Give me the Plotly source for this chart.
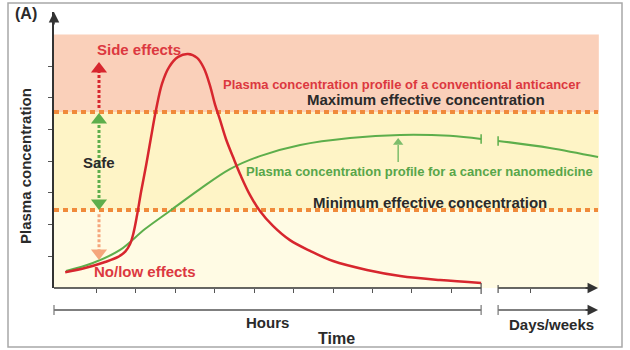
import plotly.graph_objects as go

# ---------------- data ----------------
# time in "hour" tick units, concentration in y-tick units
red_t = [0.22, 0.72, 1.23, 1.56, 1.74, 1.86, 1.95, 2.04, 2.14, 2.27, 2.39, 2.52, 2.67, 2.85,
         3.08, 3.33, 3.56, 3.73, 3.89, 4.01, 4.14, 4.29, 4.47, 4.67, 4.90, 5.15, 5.48, 5.91,
         6.42, 7.00, 7.86, 8.70, 9.71, 10.75]
red_c = [0.50, 0.63, 0.82, 0.98, 1.15, 1.38, 1.74, 2.30, 3.03, 3.88, 4.73, 5.62, 6.44, 6.97,
         7.29, 7.38, 7.26, 6.94, 6.37, 5.80, 5.30, 4.70, 4.13, 3.53, 2.93, 2.43, 1.96, 1.51,
         1.17, 0.85, 0.57, 0.38, 0.25, 0.16]
green_t_hours = [0.24, 0.92, 1.61, 2.24, 2.87, 3.63, 4.39, 5.15, 6.17, 7.43, 8.70, 9.96, 10.75]
green_c_hours = [0.54, 0.79, 1.20, 1.86, 2.43, 3.12, 3.75, 4.16, 4.51, 4.73, 4.83, 4.80, 4.70]
green_t_days = [11.18, 12.49, 13.71]
green_c_days = [4.64, 4.42, 4.13]

min_effective = 2.46
max_effective = 5.55
band_top = 8.0
x_ticks = [1, 2, 3, 4, 5, 6, 7, 8, 9, 10, 12]
y_ticks = [1, 2, 3, 4, 5, 6, 7]
break_start, break_end = 10.75, 11.18
x_end = 13.71
arrow_x = 1.076          # position of the dotted arrows
nano_arrow_x = 8.65

# ---------------- layout geometry ----------------
W, H = 630, 350
ML, MR, MT, MB = 54, 26, 12, 62
X0, X1 = -0.0633, 13.861
Y1 = 8.7066
PW, PH = W - ML - MR, H - MT - MB

def xp(x):  # data x -> paper
    return (x - X0) / (X1 - X0)

def yp_px(py):  # pixel y -> paper
    return (H - MB - py) / PH

def xp_px(px):
    return (px - ML) / PW

RED = '#D7262E'
RED_TXT = '#DC3840'
GREEN = '#5DAE4B'
GREEN_TXT = '#58A64A'
ORANGE = '#F08A3B'
PEACH = '#F5A67C'
PINK = '#FAD0BA'
YEL_HI = '#FEF4C6'
YEL_LO = '#FFFBE4'
DARK = '#2A2A2A'
AX = '#333333'
FONT = 'Liberation Sans, Arial, sans-serif'

fig = go.Figure()

# curves
for xs, ys in [(green_t_hours, green_c_hours), (green_t_days, green_c_days)]:
    fig.add_trace(go.Scatter(x=xs, y=ys, mode='lines',
                             line=dict(color=GREEN, width=2, shape='spline', smoothing=1.0),
                             hoverinfo='skip'))
fig.add_trace(go.Scatter(x=red_t, y=red_c, mode='lines',
                         line=dict(color=RED, width=2.5, shape='spline', smoothing=1.0),
                         hoverinfo='skip'))

# dotted arrows
def dotted_arrow(x, y0, y1, color, width, head_y, symbol, size, dash='3px,2px'):
    fig.add_trace(go.Scatter(x=[x, x], y=[y0, y1], mode='lines',
                             line=dict(color=color, width=width, dash=dash), hoverinfo='skip'))
    fig.add_trace(go.Scatter(x=[x] * len(head_y), y=head_y, mode='markers',
                             marker=dict(symbol=symbol, size=size, color=color),
                             cliponaxis=False, hoverinfo='skip'))

dotted_arrow(arrow_x, 5.68, 6.81, RED, 3, [6.91], 'triangle-up', 14)
dotted_arrow(arrow_x, 5.30, 2.68, GREEN, 3, [5.30], 'triangle-up', 14)
fig.add_trace(go.Scatter(x=[arrow_x], y=[2.68], mode='markers',
                         marker=dict(symbol='triangle-down', size=14, color=GREEN),
                         hoverinfo='skip'))
dotted_arrow(arrow_x, 2.33, 1.10, PEACH, 3, [1.104], 'triangle-down', 14)
dotted_arrow(nano_arrow_x, 3.975, 4.51, '#7DBD6B', 1.5, [4.59], 'triangle-up', 9, dash='solid')

shapes = []
# background bands
for y0, y1, c in [(max_effective, band_top, PINK), (min_effective, max_effective, YEL_HI),
                  (0, min_effective, YEL_LO)]:
    shapes.append(dict(type='rect', xref='x', yref='y', x0=X0, x1=x_end + 0.02, y0=y0, y1=y1,
                       fillcolor=c, line=dict(width=0), layer='below'))
# effective concentration dashed lines
for lv in [max_effective, min_effective]:
    shapes.append(dict(type='line', xref='x', yref='y', x0=X0, x1=x_end, y0=lv, y1=lv,
                       line=dict(color=ORANGE, width=4, dash='5px,4px'), layer='below'))
# green break caps
for bx, by in [(break_start, green_c_hours[-1]), (break_end, green_c_days[0])]:
    shapes.append(dict(type='line', xref='x', yref='y', x0=bx, x1=bx, y0=by - 0.15, y1=by + 0.15,
                       line=dict(color=GREEN, width=1.5)))

# x axis line with break
ax_line = dict(color=AX, width=1.5)
shapes.append(dict(type='line', xref='paper', yref='paper', x0=0, x1=xp(break_start), y0=0, y1=0,
                   line=ax_line))
shapes.append(dict(type='line', xref='paper', yref='paper', x0=xp(break_end), x1=xp(x_end) - 0.01,
                   y0=0, y1=0, line=ax_line))
for bx, a, b in [(break_start, 283, 294), (break_end, 285, 293)]:
    shapes.append(dict(type='line', xref='paper', yref='paper', x0=xp(bx), x1=xp(bx),
                       y0=yp_px(a), y1=yp_px(b), line=dict(color='#555', width=1.2)))
# bottom scale line (Hours / Days-weeks)
yb = yp_px(310)
sc = dict(color='#555', width=1.5)
shapes.append(dict(type='line', xref='paper', yref='paper', x0=0, x1=xp(break_start), y0=yb, y1=yb,
                   line=sc))
shapes.append(dict(type='line', xref='paper', yref='paper', x0=xp(break_end), x1=xp(x_end) - 0.01,
                   y0=yb, y1=yb, line=sc))
for bx in [X0, break_start, break_end]:
    shapes.append(dict(type='line', xref='paper', yref='paper', x0=xp(bx), x1=xp(bx),
                       y0=yp_px(305), y1=yp_px(315), line=dict(color='#777', width=1.2)))
# outer frame
shapes.append(dict(type='rect', xref='paper', yref='paper', x0=xp_px(8), x1=xp_px(622),
                   y0=yp_px(347), y1=yp_px(3), line=dict(color='#A8A8A8', width=1.5)))

annotations = []
# axis arrowheads
for x, y, axo, ayo in [(1e-9, 1.0, 0, 14), (xp(x_end), 0, -14, 0), (xp(x_end), yb, -14, 0)]:
    annotations.append(dict(x=x, y=y, xref='paper', yref='paper', ax=axo, ay=ayo, text='',
                            showarrow=True, arrowhead=2, arrowsize=1.4, arrowwidth=1.5,
                            arrowcolor=AX))

def txt(text, x, y, color, size, xref='x', yref='y', bold=True, **kw):
    t = '<b>' + text + '</b>' if bold else text
    annotations.append(dict(text=t, x=x, y=y, xref=xref, yref=yref, showarrow=False,
                            xanchor='center', yanchor='middle',
                            font=dict(family=FONT, size=size, color=color), **kw))

txt('Side effects', 2.09, 7.52, RED_TXT, 15)
txt('Safe', arrow_x, 3.97, DARK, 15)
txt('No/low effects', 2.24, 0.52, RED_TXT, 15)
txt('Plasma concentration profile of a conventional anticancer', 8.75, 6.42, RED_TXT, 13)
txt('Maximum effective concentration', 9.35, 5.94, DARK, 15)
txt('Plasma concentration profile for a cancer nanomedicine', 9.18, 3.66, GREEN_TXT, 13)
txt('Minimum effective concentration', 9.46, 2.70, DARK, 15)
txt('Hours', (X0 + break_start) / 2, yp_px(322), DARK, 15, yref='paper')
txt('Days/weeks', (break_end + x_end) / 2 + 0.08, yp_px(324), DARK, 15, yref='paper')
txt('Time', 7.08, yp_px(338), DARK, 16, yref='paper')
txt('(A)', xp_px(26), yp_px(13), DARK, 16, xref='paper', yref='paper')
txt('Plasma concentration', xp_px(25), yp_px(166), DARK, 15, xref='paper', yref='paper',
    textangle=-90)

fig.update_layout(
    width=W, height=H, margin=dict(l=ML, r=MR, t=MT, b=MB),
    paper_bgcolor='white', plot_bgcolor='white', showlegend=False,
    shapes=shapes, annotations=annotations,
    xaxis=dict(range=[X0, X1], showgrid=False, zeroline=False, showline=False,
               ticks='outside', tickvals=x_ticks, ticklen=4, tickwidth=1, tickcolor='#555',
               showticklabels=False, fixedrange=True),
    yaxis=dict(range=[0, Y1], showgrid=False, zeroline=False, showline=True,
               linecolor=AX, linewidth=1.5, ticks='outside', tickvals=y_ticks, ticklen=4,
               tickwidth=1, tickcolor='#555', showticklabels=False, fixedrange=True),
)

fig.write_html('out.html', config={'displayModeBar': False})
